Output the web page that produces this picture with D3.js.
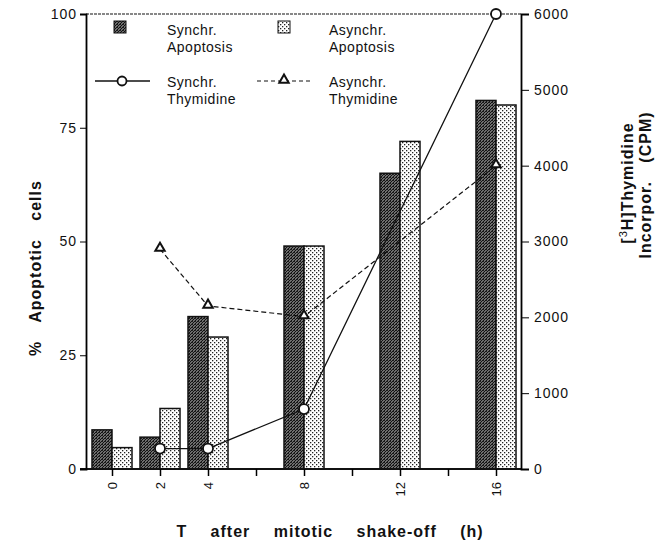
<!DOCTYPE html>
<meta charset="utf-8">
<head>
<style>
  body { margin: 0; background: #fff; }
  text { font-family: "Liberation Sans", Arial, sans-serif; fill: #111; }
  .tick text { font-size: 14px; letter-spacing: 1px; }
  .title { font-size: 16px; font-weight: bold; letter-spacing: 1px; word-spacing: 13px; }
  .legend text { font-size: 14px; letter-spacing: 0.5px; }
</style>
<script src="https://d3js.org/d3.v7.min.js"></script>
</head>
<body>
<script>
const hours = [0, 2, 4, 8, 12, 16]
const synchApoptosis = [8.6, 7.0, 33.5, 49, 65, 81]
const asynchApoptosis = [4.7, 13.3, 29, 49, 72, 80]

const thyHours = [2, 4, 8, 16]
const synchThymidine = [270, 270, 790, 6000]
const asynchThymidine = [2900, 2150, 2010, 4000]

const xTicks = [0, 2, 4, 6, 8, 10, 12, 14, 16]
const xLabels = [0, 2, 4, 8, 12, 16]
const leftTicks = [0, 25, 50, 75, 100]
const rightTicks = [0, 1000, 2000, 3000, 4000, 5000, 6000]

const width = 656, height = 546
const plotLeft = 86, plotRight = 521, plotTop = 14, plotBottom = 469
const barW = 20

const svg = d3.select("body").append("svg")
  .attr("width", width).attr("height", height)

// fill patterns
const defs = svg.append("defs")
const dark = defs.append("pattern").attr("id", "dark")
  .attr("patternUnits", "userSpaceOnUse").attr("width", 3).attr("height", 3)
dark.append("rect").attr("width", 3).attr("height", 3).attr("fill", "#6e6e6e")
dark.append("path").attr("d", "M0,3 L3,0 M-1,1 L1,-1 M2,4 L4,2").attr("stroke", "#111").attr("stroke-width", 1)
dark.append("rect").attr("x", 0).attr("y", 0).attr("width", 1).attr("height", 1).attr("fill", "#222")
const light = defs.append("pattern").attr("id", "light")
  .attr("patternUnits", "userSpaceOnUse").attr("width", 4).attr("height", 4)
light.append("rect").attr("width", 4).attr("height", 4).attr("fill", "#fff")
light.append("rect").attr("x", 0).attr("y", 0).attr("width", 1.3).attr("height", 1.3).attr("fill", "#222")
light.append("rect").attr("x", 2).attr("y", 2).attr("width", 1.3).attr("height", 1.3).attr("fill", "#222")

const x = d3.scaleLinear().domain([0, 16]).range([112, 496])
const yL = d3.scaleLinear().domain([0, 100]).range([plotBottom, plotTop])
const yR = d3.scaleLinear().domain([0, 6000]).range([plotBottom, plotTop])

// bars
svg.append("g").selectAll("rect")
  .data(hours).enter().append("rect")
  .attr("x", d => x(d) - barW)
  .attr("y", (d, i) => yL(synchApoptosis[i]))
  .attr("width", barW)
  .attr("height", (d, i) => plotBottom - yL(synchApoptosis[i]))
  .attr("fill", "url(#dark)").attr("stroke", "#111").attr("stroke-width", 1.5)

svg.append("g").selectAll("rect")
  .data(hours).enter().append("rect")
  .attr("x", d => x(d))
  .attr("y", (d, i) => yL(asynchApoptosis[i]))
  .attr("width", barW)
  .attr("height", (d, i) => plotBottom - yL(asynchApoptosis[i]))
  .attr("fill", "url(#light)").attr("stroke", "#111").attr("stroke-width", 1.5)

// frame
svg.append("line").attr("x1", plotLeft).attr("x2", plotRight).attr("y1", plotTop).attr("y2", plotTop)
  .attr("stroke", "#111").attr("stroke-width", 1.2).attr("stroke-dasharray", "3,1")
svg.append("line").attr("x1", plotLeft - 6).attr("x2", plotRight).attr("y1", plotBottom).attr("y2", plotBottom)
  .attr("stroke", "#111").attr("stroke-width", 1.8)

// left axis
const gL = svg.append("g").attr("transform", `translate(${plotLeft},0)`)
gL.call(d3.axisLeft(yL).tickValues(d3.range(0, 101, 2.5)).tickSize(-3).tickFormat(""))
gL.call(d3.axisLeft(yL).tickValues(leftTicks).tickSize(6).tickPadding(3))
gL.selectAll(".domain").attr("stroke-width", 1.8)

// right axis
const gR = svg.append("g").attr("transform", `translate(${plotRight},0)`)
gR.call(d3.axisRight(yR).tickValues(d3.range(0, 6001, 200)).tickSize(-3).tickFormat(""))
gR.call(d3.axisRight(yR).tickValues(rightTicks).tickSize(8).tickPadding(6).tickFormat(d3.format("d")))
gR.selectAll(".domain").attr("stroke-width", 1.8)
gR.selectAll(".tick text").attr("x", 13)

// bottom ticks
const gB = svg.append("g").attr("transform", `translate(0,${plotBottom})`)
gB.call(d3.axisBottom(x).tickValues(xTicks).tickSize(7)
  .tickFormat(d => xLabels.includes(d) ? d : ""))
gB.select(".domain").remove()
gB.selectAll(".tick line").attr("stroke-width", 1.5)
gB.selectAll(".tick text")
  .attr("transform", "rotate(-90)")
  .attr("x", -13).attr("y", 0).attr("dy", "0.35em")
  .attr("text-anchor", "end").style("font-size", "13px").style("letter-spacing", "0px")

// thymidine lines
const lineS = d3.line().x((d, i) => x(thyHours[i])).y(d => yR(d))
svg.append("path").datum(synchThymidine).attr("d", lineS)
  .attr("fill", "none").attr("stroke", "#111").attr("stroke-width", 1.3)
svg.append("path").datum(asynchThymidine).attr("d", lineS)
  .attr("fill", "none").attr("stroke", "#111").attr("stroke-width", 1.2).attr("stroke-dasharray", "5,3")

const tri = d3.symbol().type(d3.symbolTriangle).size(38)
svg.append("g").selectAll("path").data(asynchThymidine).enter().append("path")
  .attr("d", tri)
  .attr("transform", (d, i) => `translate(${x(thyHours[i])},${yR(d) - 1})`)
  .attr("fill", "#fff").attr("stroke", "#111").attr("stroke-width", 2)
svg.append("g").selectAll("circle").data(synchThymidine).enter().append("circle")
  .attr("cx", (d, i) => x(thyHours[i])).attr("cy", d => yR(d)).attr("r", 5)
  .attr("fill", "#fff").attr("stroke", "#111").attr("stroke-width", 1.8)

// legend
const lg = svg.append("g").attr("class", "legend")
lg.append("rect").attr("x", 114).attr("y", 21).attr("width", 12).attr("height", 12)
  .attr("fill", "url(#dark)").attr("stroke", "#111")
lg.append("rect").attr("x", 278).attr("y", 21).attr("width", 12).attr("height", 12)
  .attr("fill", "url(#light)").attr("stroke", "#111")
lg.append("line").attr("x1", 95).attr("x2", 150).attr("y1", 81).attr("y2", 81)
  .attr("stroke", "#111").attr("stroke-width", 1.3)
lg.append("circle").attr("cx", 122).attr("cy", 81).attr("r", 4.5)
  .attr("fill", "#fff").attr("stroke", "#111").attr("stroke-width", 1.8)
lg.append("line").attr("x1", 257).attr("x2", 312).attr("y1", 81).attr("y2", 81)
  .attr("stroke", "#111").attr("stroke-width", 1.2).attr("stroke-dasharray", "4,3")
lg.append("path").attr("d", tri).attr("transform", "translate(284,80)")
  .attr("fill", "#fff").attr("stroke", "#111").attr("stroke-width", 2)

const legText = [
  [167, 35, "Synchr."], [167, 52, "Apoptosis"],
  [329, 35, "Asynchr."], [329, 52, "Apoptosis"],
  [167, 87, "Synchr."], [167, 104, "Thymidine"],
  [329, 87, "Asynchr."], [329, 104, "Thymidine"]
]
lg.selectAll("text").data(legText).enter().append("text")
  .attr("x", d => d[0]).attr("y", d => d[1]).text(d => d[2])

// axis titles
svg.append("text").attr("class", "title")
  .attr("transform", "translate(41,268) rotate(-90)")
  .attr("text-anchor", "middle")
  .text("% Apoptotic cells")

const rt = svg.append("text").attr("class", "title")
  .attr("transform", "translate(633,183) rotate(-90)")
  .attr("text-anchor", "middle")
rt.append("tspan").text("[")
rt.append("tspan").text("3").attr("baseline-shift", "super").style("font-size", "11px").style("font-weight", "normal")
rt.append("tspan").text("H]Thymidine")
svg.append("text").attr("class", "title")
  .attr("transform", "translate(651,185) rotate(-90)")
  .attr("text-anchor", "middle")
  .text("Incorpor. (CPM)")

svg.append("text").attr("class", "title")
  .attr("x", 330).attr("y", 537)
  .attr("text-anchor", "middle").style("word-spacing", "18px")
  .text("T after mitotic shake-off (h)")
</script>
</body>
